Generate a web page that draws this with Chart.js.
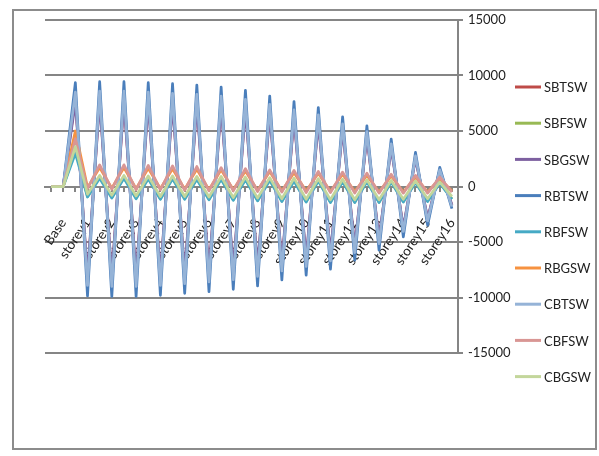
<!DOCTYPE html>
<html>
<head>
<meta charset="utf-8">
<script src="https://cdn.jsdelivr.net/npm/chart.js@4"></script>
<style>
    body { margin: 0; background: #fff; }
    #wrap { position: relative; width: 599px; height: 456px; }
    #frame {
        position: absolute; left: 12px; top: 9px; width: 585px; height: 441px;
        border: 2px solid #8c8c8c; box-sizing: border-box; pointer-events: none;
    }
    canvas { position: absolute; left: 0; top: 0; }
</style>
</head>
<body>
<div id="wrap">
    <canvas id="chart" width="599" height="456"></canvas>
    <div id="frame"></div>
</div>
<script>
// Этажи (по две точки на этаж: верх и низ)
const storeys = ["Base", "storey1", "storey2", "storey3", "storey4", "storey5", "storey6", "storey7",
    "storey8", "storey9", "storey10", "storey11", "storey12", "storey13", "storey14", "storey15", "storey16"];
const categories = storeys.flatMap((s) => [s, s]);

const seriesNames = ["SBTSW", "SBFSW", "SBGSW", "RBTSW", "RBFSW", "RBGSW", "CBTSW", "CBFSW", "CBGSW"];
const seriesColors = ["#be4b48", "#98b954", "#7d60a0", "#4a7ebb", "#46aac5", "#f69240", "#95b3d7", "#d99694", "#c3d69b"];

const yTicks = [-15000, -10000, -5000, 0, 5000, 10000, 15000];

// Значения
const sbtsw = [0, 0, 8000, -8400, 8100, -8500, 8100, -8500, 8000, -8400, 7900, -8250, 7800, -8100, 7650, -7900,
    7400, -7650, 6950, -7200, 6500, -6800, 6050, -6300, 5350, -5650, 4650, -4850, 3650, -3850, 2600, -2950, 1450, -1700];
const sbfsw = [0, 0, 3300, -900, 800, -1000, 800, -1050, 750, -1100, 750, -1100, 700, -1150, 700, -1200,
    650, -1250, 600, -1300, 550, -1350, 550, -1400, 500, -1400, 500, -1400, 450, -1350, 400, -1300, 350, -1100];
const sbgsw = [0, 0, 7600, -8000, 7700, -8100, 7700, -8100, 7600, -8000, 7500, -7850, 7400, -7700, 7250, -7500,
    7000, -7250, 6600, -6850, 6200, -6450, 5750, -6000, 5100, -5400, 4450, -4650, 3450, -3700, 2500, -2850, 1400, -1650];
const rbtsw = [0, 0, 9350, -9850, 9440, -9900, 9440, -9900, 9350, -9800, 9260, -9620, 9140, -9470, 8960, -9260,
    8660, -8960, 8150, -8420, 7640, -7980, 7110, -7440, 6270, -6630, 5470, -5740, 4270, -4540, 3070, -3490, 1730, -2000];
const rbfsw = [0, 0, 3000, -950, 750, -1050, 750, -1100, 700, -1150, 700, -1150, 650, -1200, 650, -1250,
    600, -1300, 550, -1350, 500, -1400, 500, -1450, 450, -1450, 450, -1450, 400, -1400, 350, -1350, 300, -1150];
const rbgsw = [0, 0, 5000, -100, 1700, -150, 1700, -200, 1650, -200, 1600, -250, 1550, -300, 1500, -300,
    1400, -350, 1350, -400, 1250, -400, 1200, -450, 1100, -450, 1000, -500, 950, -500, 850, -500, 700, -400];
const cbtsw = [0, 0, 8500, -8900, 8600, -9000, 8600, -9000, 8500, -8900, 8400, -8750, 8300, -8600, 8150, -8400,
    7850, -8100, 7400, -7600, 6900, -7200, 6450, -6700, 5650, -5950, 4950, -5150, 3850, -4050, 2750, -3100, 1500, -1800];
const cbfsw = [0, 0, 4300, -200, 1950, -250, 1950, -300, 1900, -300, 1850, -350, 1800, -400, 1700, -400,
    1600, -450, 1500, -500, 1450, -550, 1350, -550, 1300, -600, 1200, -600, 1100, -600, 1000, -600, 850, -500];
const cbgsw = [0, 0, 3600, -700, 1000, -800, 1000, -850, 950, -900, 950, -900, 900, -950, 900, -1000,
    850, -1050, 800, -1100, 750, -1150, 700, -1200, 650, -1200, 600, -1200, 550, -1150, 500, -1100, 400, -900];

const seriesData = [sbtsw, sbfsw, sbgsw, rbtsw, rbfsw, rbgsw, cbtsw, cbfsw, cbgsw];

const fontFamily = "Lato, 'Liberation Sans', sans-serif";
const gridColor = "#858585";

// легенда справа, как в Excel
const sideLegend = {
    id: "sideLegend",
    afterDraw(chart) {
        const ctx = chart.ctx;
        ctx.save();
        ctx.font = "13px " + fontFamily;
        ctx.textBaseline = "middle";
        ctx.textAlign = "left";
        chart.data.datasets.forEach((ds, i) => {
            const y = 87 + i * 36.2;
            ctx.strokeStyle = ds.borderColor;
            ctx.lineWidth = 3;
            ctx.beginPath();
            ctx.moveTo(515, y);
            ctx.lineTo(541, y);
            ctx.stroke();
            ctx.fillStyle = "#222";
            ctx.fillText(ds.label, 544, y + 1);
        });
        ctx.restore();
    },
};

new Chart(document.getElementById("chart"), {
    type: "line",
    data: {
        labels: categories,
        datasets: seriesNames.map((name, i) => ({
            label: name,
            data: seriesData[i],
            borderColor: seriesColors[i],
            backgroundColor: seriesColors[i],
            borderWidth: 2.75,
            borderJoinStyle: "round",
            pointRadius: 0,
            tension: 0,
            order: seriesNames.length - i,
        })),
    },
    options: {
        responsive: false,
        animation: false,
        layout: { padding: { left: 45, top: 20, bottom: 103, right: 84 } },
        plugins: { legend: { display: false }, tooltip: { enabled: false } },
        scales: {
            x: {
                position: { y: 0 },
                offset: true,
                grid: { drawOnChartArea: false, drawTicks: true, tickLength: 4, color: gridColor, lineWidth: 2 },
                border: { color: gridColor, width: 2 },
                ticks: {
                    autoSkip: false,
                    maxRotation: 56,
                    minRotation: 56,
                    padding: 25,
                    color: "#222",
                    font: { family: fontFamily, size: 13.5 },
                    callback: function (value, index) {
                        return index % 2 === 1 ? this.getLabelForValue(value) : "";
                    },
                },
            },
            y: {
                position: "right",
                min: yTicks[0],
                max: yTicks[yTicks.length - 1],
                afterBuildTicks: (scale) => {
                    scale.ticks = yTicks.map((v) => ({ value: v }));
                },
                afterFit: (scale) => {
                    scale.width = 57;
                },
                grid: { color: gridColor, lineWidth: 2, tickLength: 5 },
                border: { color: gridColor, width: 2 },
                ticks: {
                    padding: 5,
                    color: "#222",
                    font: { family: fontFamily, size: 13 },
                    callback: (value) => String(value),
                },
            },
        },
    },
    plugins: [sideLegend],
});
</script>
</body>
</html>
